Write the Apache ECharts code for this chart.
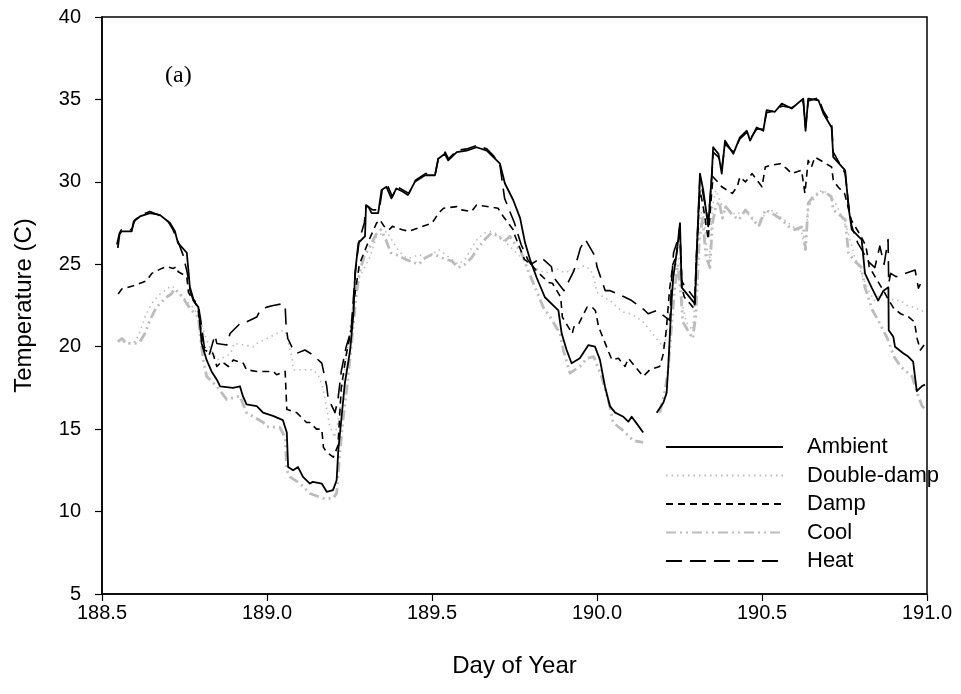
<!DOCTYPE html>
<html>
<head>
<meta charset="utf-8">
<script src="https://cdn.jsdelivr.net/npm/echarts@6/dist/echarts.min.js"></script>
<style>html,body{margin:0;padding:0;background:#fff}#chart{width:961px;height:694px}</style>
</head>
<body>
<div id="chart"></div>
<script>
// ---- data (day of year, temperature C) ----
const seriesNames = ['Ambient', 'Double-damp', 'Damp', 'Cool', 'Heat'];
const xTicks = [188.5, 189.0, 189.5, 190.0, 190.5, 191.0];
const yTicks = [5, 10, 15, 20, 25, 30, 35, 40];

const ambient = [[188.548,26.0],[188.553,26.8],[188.559,27.0],[188.59,27.0],[188.596,27.6],[188.615,27.9],[188.645,28.1],[188.675,28.0],[188.706,27.5],[188.721,27.0],[188.73,26.3],[188.757,25.7],[188.762,24.6],[188.767,23.4],[188.777,22.8],[188.792,22.4],[188.797,21.4],[188.802,20.2],[188.817,19.2],[188.832,18.5],[188.848,18.0],[188.858,17.6],[188.897,17.5],[188.918,17.6],[188.927,17.0],[188.938,16.5],[188.969,16.4],[188.988,16.0],[189.018,15.8],[189.048,15.55],[189.06,14.8],[189.064,12.7],[189.079,12.5],[189.094,12.7],[189.109,12.1],[189.13,11.7],[189.139,11.8],[189.166,11.7],[189.181,11.2],[189.2,11.3],[189.211,11.9],[189.216,13.7],[189.226,15.75],[189.236,17.8],[189.252,19.8],[189.262,22.0],[189.267,24.5],[189.277,26.3],[189.297,26.7],[189.3,28.5],[189.307,28.5],[189.317,28.1],[189.337,28.1],[189.347,29.5],[189.362,29.7],[189.377,29.0],[189.392,29.6],[189.412,29.4],[189.427,29.2],[189.448,30.0],[189.479,30.4],[189.509,30.4],[189.519,31.4],[189.539,31.7],[189.549,31.3],[189.575,31.8],[189.605,31.9],[189.635,32.1],[189.666,31.9],[189.686,31.5],[189.706,31.1],[189.721,29.9],[189.746,28.9],[189.767,27.8],[189.782,26.3],[189.797,25.3],[189.817,24.2],[189.842,23.0],[189.883,22.2],[189.893,20.8],[189.908,19.8],[189.923,19.0],[189.948,19.3],[189.974,20.1],[189.994,20.0],[190.009,19.2],[190.024,17.6],[190.039,16.4],[190.055,16.0],[190.08,15.75],[190.095,15.45],[190.105,15.75],[190.12,15.35],[190.14,14.8],[190.16,'-'],[190.181,16.0],[190.201,16.6],[190.211,17.2],[190.216,18.8],[190.221,20.8],[190.226,22.8],[190.231,24.2],[190.2415,25.7],[190.2515,27.5],[190.2565,23.6],[190.297,22.6],[190.302,25.5],[190.312,30.5],[190.322,29.5],[190.337,27.3],[190.348,30.5],[190.352,32.1],[190.368,31.7],[190.378,30.5],[190.388,32.5],[190.413,31.7],[190.433,32.7],[190.454,33.1],[190.464,32.5],[190.484,33.3],[190.504,33.1],[190.514,34.35],[190.539,34.25],[190.56,34.75],[190.59,34.45],[190.625,35.05],[190.632,33.1],[190.64,35.05],[190.671,34.95],[190.686,34.15],[190.711,33.3],[190.716,31.5],[190.752,30.7],[190.762,28.5],[190.772,27.1],[190.802,26.5],[190.812,24.45],[190.832,23.6],[190.852,22.8],[190.868,23.4],[190.883,23.6],[190.884,21.0],[190.898,20.6],[190.903,20.0],[190.928,19.6],[190.943,19.4],[190.958,19.1],[190.969,17.3],[190.984,17.6],[190.994,17.7]];

const doubleDamp = [[188.548,20.4],[188.56,20.3],[188.58,20.2],[188.6,20.3],[188.615,20.9],[188.63,21.8],[188.65,22.6],[188.67,23.1],[188.69,23.4],[188.71,23.7],[188.725,23.5],[188.74,23.1],[188.76,22.7],[188.78,22.3],[188.8,21.5],[188.815,20.5],[188.83,19.8],[188.848,19.2],[188.875,19.4],[188.89,19.6],[188.9,20.2],[188.96,20.0],[188.97,20.2],[189.0,20.5],[189.05,21.0],[189.058,20.8],[189.075,19.4],[189.08,18.6],[189.14,18.6],[189.155,18.3],[189.17,17.5],[189.19,15.2],[189.205,14.5],[189.215,15.5],[189.23,17.8],[189.245,20.0],[189.26,22.5],[189.275,24.0],[189.29,24.6],[189.312,25.45],[189.332,26.7],[189.363,27.0],[189.38,26.4],[189.4,25.8],[189.42,25.4],[189.44,25.4],[189.46,25.6],[189.48,25.4],[189.5,25.6],[189.52,25.9],[189.54,25.6],[189.56,25.3],[189.58,25.0],[189.6,25.3],[189.62,26.0],[189.64,26.6],[189.66,26.9],[189.68,27.0],[189.7,26.8],[189.72,26.4],[189.74,26.0],[189.76,25.6],[189.78,25.3],[189.8,25.0],[189.82,24.7],[189.84,24.5],[189.86,24.5],[189.88,24.7],[189.9,24.5],[189.92,24.6],[189.94,24.7],[189.96,24.9],[189.98,24.7],[189.99,24.2],[190.0,23.3],[190.02,23.0],[190.04,22.8],[190.06,22.4],[190.08,22.1],[190.1,22.0],[190.12,21.8],[190.14,21.5],[190.16,21.0],[190.18,20.5],[190.2,20.0],[190.21,20.5],[190.22,22.5],[190.23,24.0],[190.24,25.0],[190.25,25.5],[190.26,22.5],[190.27,21.5],[190.29,21.0],[190.3,23.5],[190.31,27.5],[190.32,28.5],[190.33,26.5],[190.34,25.0],[190.35,28.5],[190.36,29.5],[190.38,28.5],[190.4,28.3],[190.42,28.0],[190.44,28.2],[190.46,28.0],[190.48,27.5],[190.5,27.8],[190.52,28.3],[190.54,28.2],[190.56,27.8],[190.58,27.5],[190.6,27.2],[190.62,27.0],[190.63,25.8],[190.64,28.5],[190.66,29.0],[190.68,29.5],[190.7,29.3],[190.72,28.8],[190.74,28.0],[190.76,27.0],[190.78,25.5],[190.8,24.5],[190.82,23.5],[190.84,22.8],[190.86,23.2],[190.88,23.0],[190.9,22.8],[190.92,22.8],[190.94,22.5],[190.96,22.4],[190.98,22.2],[190.998,22.1]];

const damp = [[188.549,23.2],[188.56,23.5],[188.595,23.7],[188.635,24.0],[188.651,24.45],[188.681,24.75],[188.696,24.85],[188.716,24.75],[188.726,24.85],[188.731,24.55],[188.757,24.25],[188.762,23.3],[188.777,22.8],[188.79,22.4],[188.8,21.0],[188.81,19.8],[188.836,19.6],[188.848,18.8],[188.863,19.1],[188.883,18.8],[188.898,19.2],[188.928,19.0],[188.938,18.6],[188.969,18.5],[189.019,18.5],[189.029,18.3],[189.055,18.5],[189.06,16.2],[189.09,16.0],[189.12,15.4],[189.13,15.4],[189.15,15.0],[189.166,15.0],[189.171,13.9],[189.181,13.6],[189.201,13.3],[189.215,14.0],[189.225,17.5],[189.24,19.5],[189.255,21.0],[189.265,23.0],[189.28,25.0],[189.3,26.0],[189.31,26.5],[189.332,27.5],[189.342,27.7],[189.355,27.3],[189.37,27.1],[189.38,27.3],[189.41,27.1],[189.43,27.0],[189.5,27.5],[189.52,28.1],[189.535,28.4],[189.575,28.5],[189.59,28.3],[189.62,28.2],[189.635,28.6],[189.7,28.4],[189.716,27.9],[189.746,27.1],[189.752,26.7],[189.78,25.3],[189.8,25.0],[189.817,24.6],[189.853,23.9],[189.865,23.85],[189.89,23.0],[189.895,21.8],[189.925,20.8],[189.93,21.2],[189.945,21.4],[189.955,21.8],[189.97,22.4],[189.985,22.4],[189.995,22.2],[190.005,21.2],[190.045,19.2],[190.065,19.3],[190.085,18.8],[190.095,19.3],[190.14,18.2],[190.16,18.6],[190.19,18.8],[190.2,19.5],[190.21,21.0],[190.22,23.5],[190.23,25.0],[190.24,25.5],[190.2515,27.0],[190.258,23.5],[190.265,23.0],[190.295,22.3],[190.3,25.0],[190.312,29.5],[190.322,28.5],[190.337,26.5],[190.348,29.5],[190.352,30.3],[190.37,29.9],[190.378,29.7],[190.41,29.3],[190.425,29.7],[190.433,30.3],[190.45,30.0],[190.47,30.5],[190.5,29.7],[190.51,30.9],[190.525,31.0],[190.555,31.1],[190.575,30.8],[190.59,30.5],[190.62,30.7],[190.63,29.3],[190.64,31.3],[190.65,30.9],[190.66,31.5],[190.686,31.2],[190.711,30.9],[190.716,30.1],[190.73,29.7],[190.75,29.3],[190.758,28.7],[190.77,27.7],[190.8,26.7],[190.815,26.1],[190.825,24.85],[190.85,24.0],[190.865,23.5],[190.885,22.8],[190.9,22.3],[190.92,22.0],[190.945,21.8],[190.962,21.5],[190.97,20.5],[190.98,19.8],[190.995,20.2]];

const cool = [[188.548,20.3],[188.56,20.5],[188.575,20.2],[188.6,20.2],[188.615,20.3],[188.63,20.8],[188.645,21.6],[188.665,22.4],[188.695,23.0],[188.71,23.2],[188.72,23.5],[188.73,23.3],[188.745,23.0],[188.757,22.6],[188.772,22.2],[188.792,21.8],[188.797,20.8],[188.807,19.2],[188.817,18.2],[188.848,17.6],[188.878,16.8],[188.918,17.0],[188.938,16.0],[188.989,15.4],[188.999,15.15],[189.039,15.1],[189.055,14.5],[189.06,12.5],[189.07,12.1],[189.1,11.7],[189.13,11.1],[189.17,10.8],[189.2,10.8],[189.211,11.1],[189.221,13.6],[189.23,15.5],[189.245,18.0],[189.26,21.0],[189.27,23.0],[189.28,24.5],[189.295,25.5],[189.31,26.0],[189.33,26.8],[189.345,27.1],[189.36,26.5],[189.375,25.7],[189.39,25.6],[189.42,25.3],[189.44,25.15],[189.46,25.0],[189.48,25.4],[189.5,25.6],[189.52,25.5],[189.54,25.3],[189.56,25.2],[189.58,24.8],[189.6,25.0],[189.62,25.4],[189.64,26.0],[189.66,26.5],[189.68,26.9],[189.7,26.7],[189.72,26.4],[189.736,26.7],[189.757,26.05],[189.767,25.9],[189.787,24.85],[189.807,23.85],[189.837,22.4],[189.858,21.8],[189.888,20.8],[189.898,19.8],[189.918,18.4],[189.948,18.8],[189.97,19.3],[189.99,19.4],[190.014,18.2],[190.039,16.4],[190.049,15.4],[190.08,14.9],[190.11,14.3],[190.14,14.2],[190.16,'-'],[190.19,16.0],[190.205,17.2],[190.215,18.5],[190.225,21.0],[190.235,23.5],[190.245,25.0],[190.255,23.0],[190.26,21.5],[190.29,20.5],[190.3,22.0],[190.31,26.5],[190.32,27.8],[190.33,25.5],[190.342,24.8],[190.35,27.5],[190.36,28.5],[190.37,28.8],[190.38,27.8],[190.39,28.5],[190.41,28.0],[190.43,27.7],[190.45,28.3],[190.47,27.8],[190.49,27.3],[190.51,28.3],[190.53,28.1],[190.56,27.7],[190.58,27.3],[190.6,27.1],[190.625,27.3],[190.632,25.9],[190.64,28.7],[190.655,29.1],[190.67,29.3],[190.69,29.4],[190.71,29.1],[190.716,28.3],[190.735,28.0],[190.752,27.7],[190.762,25.7],[190.78,25.2],[190.8,24.85],[190.812,23.6],[190.835,22.2],[190.852,21.6],[190.88,20.5],[190.9,19.4],[190.92,18.8],[190.955,18.2],[190.97,17.2],[190.985,16.4],[190.995,16.2]];

const heat = [[188.545,26.2],[188.553,26.9],[188.559,27.1],[188.59,27.1],[188.6,27.7],[188.62,28.0],[188.645,28.2],[188.67,28.0],[188.7,27.6],[188.715,27.1],[188.73,26.4],[188.745,25.6],[188.757,24.6],[188.767,23.6],[188.777,22.9],[188.792,22.5],[188.8,21.5],[188.81,20.0],[188.825,19.5],[188.842,20.7],[188.848,20.2],[188.878,20.1],[188.888,20.8],[188.918,21.4],[188.938,21.5],[188.969,21.8],[188.979,22.2],[188.999,22.4],[189.019,22.5],[189.045,22.6],[189.055,22.5],[189.058,21.2],[189.063,20.5],[189.075,20.0],[189.09,19.6],[189.115,19.8],[189.139,19.5],[189.166,19.0],[189.181,17.6],[189.185,16.9],[189.206,16.0],[189.215,16.8],[189.225,18.5],[189.24,20.0],[189.255,21.0],[189.262,23.0],[189.27,25.0],[189.28,26.5],[189.295,27.5],[189.3,28.6],[189.32,28.3],[189.34,28.3],[189.35,29.6],[189.365,29.8],[189.38,29.1],[189.395,29.7],[189.43,29.3],[189.45,30.1],[189.48,30.5],[189.51,30.5],[189.52,31.5],[189.54,31.8],[189.55,31.4],[189.575,31.9],[189.605,32.0],[189.635,32.2],[189.666,32.0],[189.686,31.6],[189.706,31.0],[189.72,29.0],[189.75,27.5],[189.77,26.2],[189.79,25.3],[189.8,25.0],[189.832,25.4],[189.862,24.85],[189.867,24.25],[189.9,23.4],[189.93,24.6],[189.95,26.0],[189.965,26.5],[189.995,25.45],[190.0,24.85],[190.025,23.4],[190.04,23.4],[190.085,23.0],[190.105,22.8],[190.145,22.2],[190.155,22.0],[190.181,22.2],[190.221,21.6],[190.226,24.0],[190.232,25.7],[190.245,26.5],[190.25,27.2],[190.257,24.0],[190.262,23.8],[190.297,22.9],[190.302,25.8],[190.312,30.3],[190.322,29.2],[190.337,27.6],[190.348,30.3],[190.352,31.8],[190.368,31.5],[190.378,30.8],[190.388,32.3],[190.413,31.8],[190.433,32.6],[190.454,33.0],[190.464,32.6],[190.484,33.2],[190.504,33.2],[190.514,34.2],[190.539,34.3],[190.56,34.6],[190.59,34.5],[190.625,34.9],[190.632,33.3],[190.64,34.9],[190.671,35.1],[190.686,34.3],[190.711,33.5],[190.716,31.8],[190.752,30.5],[190.762,28.7],[190.772,27.3],[190.79,26.3],[190.805,25.8],[190.82,25.2],[190.842,24.8],[190.857,26.1],[190.87,25.0],[190.882,26.5],[190.884,23.85],[190.89,24.45],[190.906,24.25],[190.964,24.65],[190.974,23.55],[190.98,23.8]];

// ---- chart ----
const chart = echarts.init(document.getElementById('chart'));
const FONT = '"Liberation Sans", Arial, sans-serif';
const BLACK = '#000000';
const GRAY = '#bcbcbc';

function lineSeries(name, data, color, width, dash, z) {
  return {
    name: name, type: 'line', data: data, showSymbol: false, symbol: 'none',
    connectNulls: false, animation: false, z: z,
    lineStyle: { color: color, width: width, type: dash, cap: 'butt', join: 'round' },
    itemStyle: { color: color }
  };
}

chart.setOption({
  animation: false,
  backgroundColor: '#ffffff',
  grid: { left: 102, right: 34, top: 17, bottom: 100, show: true, borderColor: BLACK, borderWidth: 1.5, backgroundColor: 'transparent' },
  xAxis: {
    type: 'value', min: xTicks[0], max: xTicks[xTicks.length - 1], interval: 0.5,
    name: 'Day of Year', nameLocation: 'middle', nameGap: 60,
    nameTextStyle: { fontFamily: FONT, fontSize: 24, color: BLACK },
    axisLine: { show: true, onZero: false, lineStyle: { color: BLACK, width: 1.5 } },
    axisTick: { show: true, inside: false, length: 7, lineStyle: { color: BLACK, width: 1.2 } },
    axisLabel: { fontFamily: FONT, fontSize: 20, color: BLACK, margin: 9, formatter: v => v.toFixed(1) },
    splitLine: { show: false }
  },
  yAxis: {
    type: 'value', min: yTicks[0], max: yTicks[yTicks.length - 1], interval: 5,
    name: 'Temperature (C)', nameLocation: 'middle', nameGap: 66, nameRotate: 90,
    nameTextStyle: { fontFamily: FONT, fontSize: 24, color: BLACK },
    axisLine: { show: true, onZero: false, lineStyle: { color: BLACK, width: 1.5 } },
    axisTick: { show: true, inside: false, length: 7, lineStyle: { color: BLACK, width: 1.2 } },
    axisLabel: { fontFamily: FONT, fontSize: 20, color: BLACK, margin: 21 },
    splitLine: { show: false }
  },
  legend: {
    data: seriesNames,
    orient: 'vertical', left: 660, top: 431,
    itemWidth: 117, itemHeight: 16, itemGap: 6.5,
    itemStyle: { color: 'transparent', borderWidth: 0, opacity: 0 },
    textStyle: { fontFamily: FONT, fontSize: 22, color: BLACK, padding: [0, 0, 0, 19] },
    backgroundColor: 'transparent'
  },
  graphic: [{
    type: 'text', left: 165, top: 64,
    style: { text: '(a)', font: '24px "Liberation Serif", "Times New Roman", serif', fill: BLACK }
  }],
  series: [
    lineSeries(seriesNames[0], ambient, BLACK, 1.8, 'solid', 5),
    lineSeries(seriesNames[1], doubleDamp, GRAY, 1.6, [1.5, 4], 2),
    lineSeries(seriesNames[2], damp, BLACK, 1.6, [7, 5], 4),
    lineSeries(seriesNames[3], cool, GRAY, 2.8, [10, 4, 2, 4, 2, 4], 1),
    lineSeries(seriesNames[4], heat, BLACK, 1.6, [16, 8], 3)
  ]
});
</script>
</body>
</html>
